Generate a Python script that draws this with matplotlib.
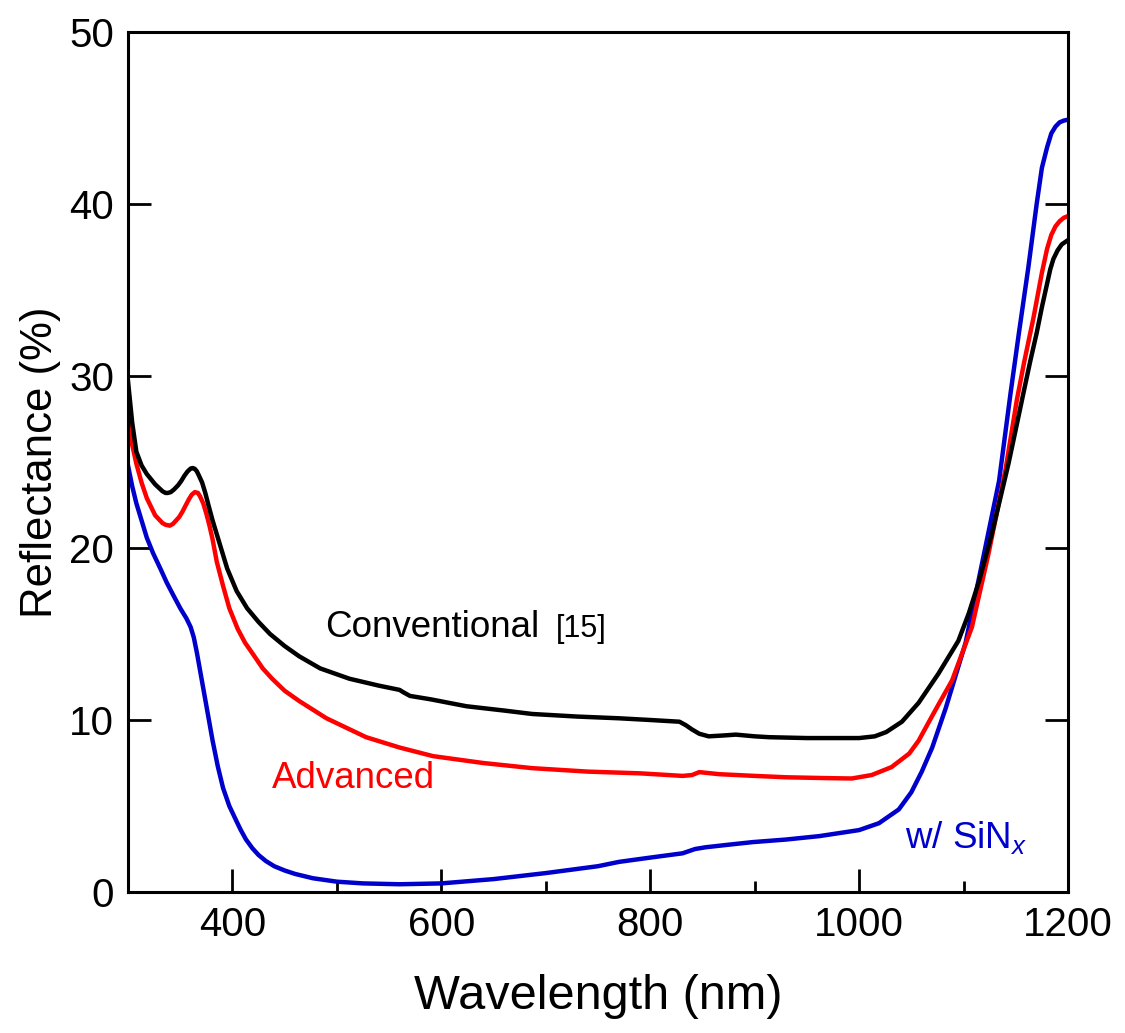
import matplotlib
matplotlib.use('Agg')
import matplotlib.pyplot as plt
from matplotlib.ticker import MultipleLocator

plt.rcParams['font.family'] = ['Liberation Sans', 'DejaVu Sans']
plt.rcParams['mathtext.fontset'] = 'custom'
plt.rcParams['mathtext.rm'] = 'Liberation Sans'
plt.rcParams['mathtext.it'] = 'Liberation Sans:italic'

# reflectance spectra (wavelength in nm, reflectance in %)
wl_conv = [300, 304, 308, 313, 318, 326, 333, 336, 338, 341, 344, 348, 351, 354, 357,
           360, 362, 364, 366, 368, 371, 374, 377, 381, 388, 395, 404, 414, 425, 436,
           450, 464, 484, 512, 540, 560, 564, 570, 590, 624, 660, 687, 730, 770, 800,
           828, 834, 840, 847, 856, 870, 882, 900, 914, 950, 1000, 1015, 1026, 1041,
           1057, 1076, 1095, 1105, 1115, 1127, 1143, 1150, 1158, 1164, 1170, 1175, 1179,
           1183, 1186, 1190, 1194, 1200]
r_conv = [29.7, 27.3, 25.6, 24.8, 24.3, 23.7, 23.3, 23.2, 23.2, 23.25, 23.4, 23.65, 23.9,
          24.2, 24.45, 24.62, 24.65, 24.6, 24.45, 24.2, 23.8, 23.2, 22.5, 21.6, 20.2,
          18.8, 17.5, 16.5, 15.7, 15.0, 14.3, 13.7, 13.0, 12.4, 12.0, 11.75, 11.6, 11.4,
          11.2, 10.8, 10.55, 10.35, 10.2, 10.1, 10.0, 9.9, 9.7, 9.45, 9.2, 9.05, 9.1,
          9.15, 9.05, 9.0, 8.95, 8.95, 9.05, 9.3, 9.9, 11.0, 12.7, 14.6, 16.2, 18.1, 20.8,
          24.9, 26.9, 29.2, 30.9, 32.5, 34.0, 35.1, 36.2, 36.8, 37.3, 37.65, 37.9]

wl_adv = [300, 304, 308, 313, 318, 326, 333, 336, 340, 343, 346, 349, 352, 355, 358,
          361, 364, 367, 369, 372, 375, 378, 381, 385, 391, 397, 405, 412, 420, 429,
          438, 450, 464, 490, 528, 560, 592, 640, 687, 740, 790, 831, 840, 847, 866,
          900, 930, 970, 993, 1012, 1031, 1048, 1057, 1066, 1076, 1089, 1108, 1124,
          1140, 1151, 1158, 1167, 1175, 1180, 1184, 1188, 1192, 1196, 1200]
r_adv = [27.4, 26.0, 24.9, 23.8, 22.9, 21.9, 21.45, 21.35, 21.3, 21.4, 21.6, 21.8, 22.1,
         22.45, 22.8, 23.1, 23.25, 23.2, 23.0, 22.6, 22.0, 21.3, 20.5, 19.2, 17.8, 16.5,
         15.3, 14.5, 13.8, 13.0, 12.4, 11.7, 11.1, 10.1, 9.0, 8.4, 7.9, 7.5, 7.2, 7.0,
         6.9, 6.75, 6.8, 6.97, 6.85, 6.75, 6.67, 6.62, 6.6, 6.8, 7.26, 8.05, 8.8, 9.8,
         10.9, 12.3, 15.4, 19.7, 24.5, 28.6, 30.8, 33.4, 36.0, 37.4, 38.2, 38.7, 39.0,
         39.2, 39.3]

wl_sin = [300, 304, 308, 313, 318, 324, 331, 337, 343, 350, 356, 360, 363, 366, 371,
          376, 381, 386, 391, 397, 404, 408, 413, 419, 425, 432, 440, 450, 460, 477,
          500, 525, 560, 600, 650, 700, 750, 770, 800, 831, 843, 853, 875, 898, 930,
          962, 1000, 1019, 1038, 1050, 1060, 1070, 1083, 1102, 1117, 1134, 1145, 1153,
          1162, 1170, 1175, 1180, 1184, 1188, 1192, 1196, 1200]
r_sin = [24.8, 23.6, 22.6, 21.6, 20.6, 19.7, 18.8, 18.0, 17.3, 16.5, 15.9, 15.4, 14.8,
         13.9, 12.2, 10.5, 8.8, 7.3, 6.05, 5.0, 4.1, 3.6, 3.05, 2.55, 2.15, 1.8, 1.5,
         1.25, 1.05, 0.8, 0.6, 0.5, 0.45, 0.5, 0.75, 1.1, 1.5, 1.75, 2.0, 2.25, 2.5,
         2.6, 2.75, 2.9, 3.05, 3.25, 3.6, 4.0, 4.8, 5.8, 7.0, 8.4, 10.7, 14.5, 18.9,
         23.9, 29.0, 32.5, 36.3, 40.0, 42.1, 43.3, 44.1, 44.5, 44.75, 44.85, 44.9]

BLUE = '#0000cc'
RED = '#ff0000'

fig = plt.figure(figsize=(11.25, 10.33), dpi=100)
ax = fig.add_axes([128 / 1125, 1 - 892 / 1033, 940 / 1125, 860 / 1033])

lw = 3.2
ax.plot(wl_sin, r_sin, color=BLUE, lw=lw, solid_joinstyle='round')
ax.plot(wl_adv, r_adv, color=RED, lw=lw, solid_joinstyle='round')
ax.plot(wl_conv, r_conv, color='black', lw=lw, solid_joinstyle='round')

ax.set_xlim(300, 1200)
ax.set_ylim(0, 50)
ax.xaxis.set_major_locator(MultipleLocator(200))
ax.xaxis.set_minor_locator(MultipleLocator(100))
ax.yaxis.set_major_locator(MultipleLocator(10))

for s in ax.spines.values():
    s.set_linewidth(2.2)
ax.tick_params(axis='x', which='major', direction='in', length=16.5, width=2.0,
               labelsize=29, pad=10)
ax.tick_params(axis='x', which='minor', direction='in', length=8, width=2.0)
ax.tick_params(axis='y', which='major', direction='in', length=16.5, width=2.0,
               labelsize=29, pad=10, right=True)

ax.set_xlabel('Wavelength (nm)', fontsize=35, labelpad=22)
ax.set_ylabel('Reflectance (%)', fontsize=31.5, labelpad=6)

ax.text(489, 14.8, 'Conventional', fontsize=26.5, color='black', va='baseline')
ax.text(710, 14.8, '[15]', fontsize=22, color='black', va='baseline')
ax.text(438, 6.05, 'Advanced', fontsize=26.5, color=RED, va='baseline')
ax.text(1044, 2.55, r'w/ SiN$_{x}$', fontsize=26.5, color=BLUE, va='baseline')

fig.savefig('out.png', dpi=100)
